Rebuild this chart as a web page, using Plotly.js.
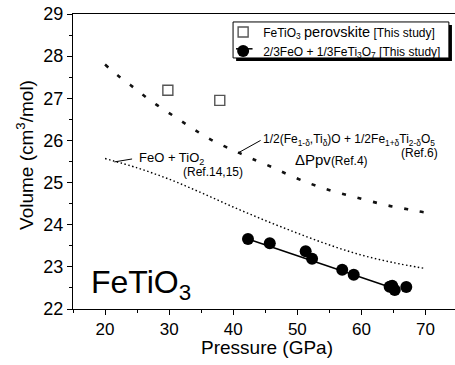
<!DOCTYPE html>
<html>
<head>
<meta charset="utf-8">
<script src="https://cdn.plot.ly/plotly-3.0.1.min.js"></script>
<style>html,body{margin:0;padding:0;background:#fff;}#chart{width:455px;height:365px;}</style>
</head>
<body>
<div id="chart"></div>
<script>
// Ppv-type phase assemblage (dashed curve, Ref.6 / Ref.4)
const ppvP = [20, 22, 24, 26, 28, 30, 32, 34, 36, 38.5, 40.7, 43, 46, 49, 52.1, 54.4, 56.9, 59.1, 61.6, 64, 66.4, 68.8, 70];
const ppvV = [27.8, 27.54, 27.31, 27.07, 26.85, 26.65, 26.45, 26.25, 26.06, 25.87, 25.72, 25.56, 25.37, 25.16, 24.97, 24.85, 24.74, 24.65, 24.55, 24.46, 24.39, 24.32, 24.29];
// FeO + TiO2 (dotted curve, Ref.14,15)
const oxP = [20, 25, 30, 35, 40, 45, 50, 55, 60, 65, 70];
const oxV = [25.57, 25.35, 25.08, 24.76, 24.42, 24.1, 23.8, 23.52, 23.28, 23.1, 22.96];
// FeTiO3 perovskite [This study]
const perovP = [29.8, 37.9];
const perovV = [27.19, 26.95];
// 2/3FeO + 1/3FeTi3O7 [This study]
const mixP = [42.3, 45.7, 51.3, 52.3, 57.0, 58.8, 64.4, 64.8, 65.2, 67.0];
const mixV = [23.66, 23.56, 23.37, 23.19, 22.93, 22.81, 22.53, 22.55, 22.45, 22.52];
// linear fit through the mixture data
const fitP = [42.3, 66.0];
const fitV = [23.66, 22.44];

const FONT = 'Arial, "Liberation Sans", Helvetica, sans-serif';

const traces = [
  {x: oxP, y: oxV, mode: 'lines', line: {color: '#000', width: 1.4, dash: '1.5px,2.5px', shape: 'spline'}, showlegend: false, hoverinfo: 'skip'},
  {x: ppvP, y: ppvV, mode: 'lines', line: {color: '#111', width: 2.6, dash: '4px,12px', shape: 'spline'}, showlegend: false, hoverinfo: 'skip'},
  {x: fitP, y: fitV, mode: 'lines', line: {color: '#000', width: 1.5}, showlegend: false, hoverinfo: 'skip'},
  {x: perovP, y: perovV, mode: 'markers', name: 'FeTiO<sub>3</sub> <span style="font-size:14.5px">perovskite</span> [This study]',
   marker: {symbol: 'square-open', size: 10, color: '#555', line: {width: 1.4, color: '#555'}}},
  {x: mixP, y: mixV, mode: 'markers', name: '2/3FeO + 1/3FeTi<sub>3</sub>O<sub>7</sub> [This study]',
   marker: {symbol: 'circle', size: 12, color: '#000'}}
];

const ann = (x, y, text, size, xanchor) => ({x: x, y: y, xref: 'x', yref: 'y', text: text, showarrow: false,
  xanchor: xanchor || 'left', yanchor: 'middle', font: {family: FONT, size: size, color: '#000'}});

const layout = {
  width: 455, height: 365,
  margin: {l: 73, r: 0, t: 14, b: 56, pad: 0},
  paper_bgcolor: '#fff', plot_bgcolor: '#fff',
  font: {family: FONT, color: '#000'},
  xaxis: {
    range: [15, 74.6], showgrid: false, zeroline: false,
    showline: true, mirror: true, linecolor: '#000', linewidth: 1,
    ticks: 'outside', ticklen: 5, tickwidth: 1, tickcolor: '#000',
    tickvals: [20, 30, 40, 50, 60, 70],
    minor: {tickvals: [15, 25, 35, 45, 55, 65], ticks: 'outside', ticklen: 3, tickcolor: '#000'},
    tickfont: {family: FONT, size: 17, color: '#000'}
  },
  yaxis: {
    range: [22, 29], showgrid: false, zeroline: false,
    showline: true, mirror: true, linecolor: '#000', linewidth: 1,
    ticks: 'outside', ticklen: 5, tickwidth: 1, tickcolor: '#000',
    tickvals: [22, 23, 24, 25, 26, 27, 28, 29],
    minor: {dtick: 0.5, ticks: 'outside', ticklen: 3, tickcolor: '#000'},
    tickfont: {family: FONT, size: 18, color: '#000'}
  },
  showlegend: true,
  legend: {x: 0.393, xanchor: 'left', y: 0.988, yanchor: 'top', bgcolor: 'rgba(0,0,0,0)', borderwidth: 0,
    font: {family: FONT, size: 12, color: '#000'}, itemwidth: 30, tracegroupgap: 0},
  shapes: [
    {type: 'rect', xref: 'paper', yref: 'paper', x0: 0.427, x1: 0.992, y0: 0.841, y1: 0.963, fillcolor: '#000', line: {width: 0}},
    {type: 'rect', xref: 'paper', yref: 'paper', x0: 0.419, x1: 0.984, y0: 0.851, y1: 0.973, fillcolor: '#fff', line: {color: '#000', width: 1}},
    {type: 'line', xref: 'paper', yref: 'paper', x0: 0.4267, x1: 0.470, y0: 0.882, y1: 0.882, line: {color: '#000', width: 1.5}},
    {type: 'line', xref: 'x', yref: 'y', x0: 21.45, y0: 25.49, x1: 24.22, y1: 25.56, line: {color: '#000', width: 1}},
    {type: 'line', xref: 'x', yref: 'y', x0: 40.72, y0: 25.70, x1: 44.27, y1: 26.0, line: {color: '#000', width: 1}}
  ],
  annotations: [
    ann(25.0, 25.57, 'FeO + TiO<sub>2</sub>', 13),
    ann(31.88, 25.24, '(Ref.14,15)', 12),
    ann(44.38, 26.02, '1/2(Fe<sub>1-δ</sub>,Ti<sub>δ</sub>)O + 1/2Fe<sub>1+δ</sub>Ti<sub>2-δ</sub>O<sub>5</sub>', 12),
    ann(72.23, 25.69, '(Ref.6)', 12, 'right'),
    ann(49.27, 25.54, '<span style="font-size:15px">ΔPpv</span>(Ref.4)', 12),
    ann(17.55, 22.57, 'FeTiO<sub>3</sub>', 32),
    {xref: 'paper', yref: 'paper', x: 0.507, y: -0.13, xanchor: 'center', yanchor: 'middle', showarrow: false,
     text: 'Pressure (GPa)', font: {family: FONT, size: 19, color: '#000'}},
    {xref: 'paper', yref: 'paper', x: -0.1257, y: 0.522, xanchor: 'center', yanchor: 'middle', showarrow: false, textangle: -90,
     text: 'Volume (cm<sup>3</sup>/mol)', font: {family: FONT, size: 19, color: '#000'}}
  ]
};

Plotly.newPlot('chart', traces, layout, {displayModeBar: false, staticPlot: true});
</script>
</body>
</html>
